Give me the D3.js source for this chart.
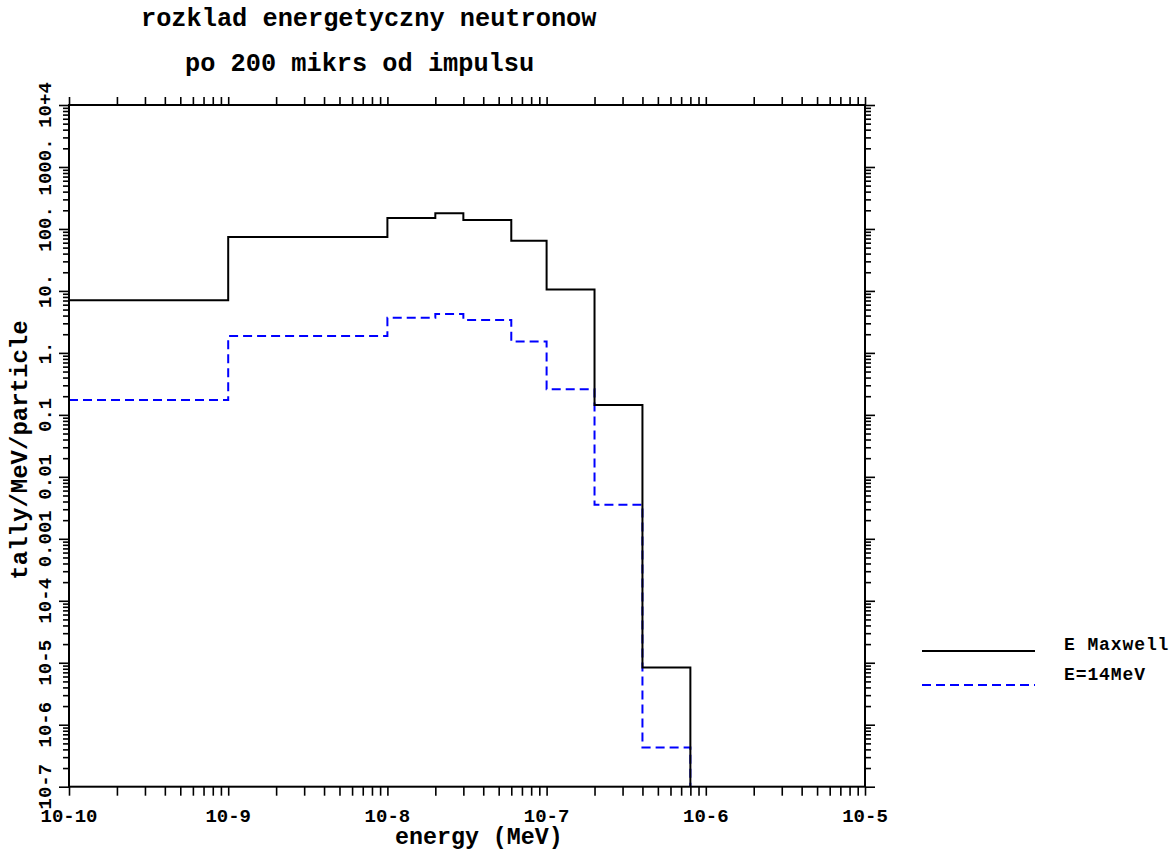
<!DOCTYPE html>
<html>
<head>
<meta charset="utf-8">
<script src="https://cdn.jsdelivr.net/npm/d3@7/dist/d3.min.js"></script>
<style>
  html, body { margin: 0; padding: 0; background: #fff; }
  svg { display: block; }
  text { font-family: "Liberation Mono", "DejaVu Sans Mono", monospace; font-weight: bold; fill: #000; }
</style>
</head>
<body>
<svg id="chart" width="1176" height="850"></svg>
<script>
// Energy bin edges (MeV): each series value applies from edge i to edge i+1
const binEdges = [1e-10, 1e-9, 1e-8, 2e-8, 3e-8, 6e-8, 1e-7, 2e-7, 4e-7, 8e-7];
// tally/MeV/particle per bin; after the last bin the line drops to the axis
const maxwellValues = [7.1, 74, 150, 180, 139, 64.5, 10.5, 0.144, 8.4e-6];
const mev14Values   = [0.174, 1.87, 3.70, 4.24, 3.40, 1.53, 0.258, 0.00356, 4.3e-7];

const xDecades = [1e-10, 1e-9, 1e-8, 1e-7, 1e-6, 1e-5];
const xTickLabels = ["10-10", "10-9", "10-8", "10-7", "10-6", "10-5"];
const yDecades = [1e-7, 1e-6, 1e-5, 1e-4, 1e-3, 1e-2, 1e-1, 1, 10, 100, 1000, 1e4];
const yTickLabels = ["10-7", "10-6", "10-5", "10-4", "0.001", "0.01", "0.1", "1.", "10.", "100.", "1000.", "10+4"];

const titleLines = ["rozklad energetyczny neutronow", "po 200 mikrs od impulsu"];
const xLabel = "energy (MeV)";
const yLabel = "tally/MeV/particle";
const seriesNames = ["E Maxwell", "E=14MeV"];

const svg = d3.select("#chart");
const plotL = 69, plotR = 865, plotT = 105, plotB = 786.7;

const x = d3.scaleLog().domain([1e-10, 1e-5]).range([plotL, plotR]);
const y = d3.scaleLog().domain([1e-7, 1e4]).range([plotB, plotT]);

// minor ticks: 2..9 times each decade
function minorTicks(decades) {
  const out = [];
  for (let i = 0; i < decades.length - 1; i++) {
    for (let k = 2; k <= 9; k++) out.push(decades[i] * k);
  }
  return out;
}
const xMinor = minorTicks(xDecades);
const yMinor = minorTicks(yDecades);

function styleAxis(g) {
  g.select(".domain").remove();
  g.selectAll(".tick line").attr("stroke", "#000").attr("stroke-width", 1.6);
  g.selectAll(".tick text").remove();
}

// bottom & top axes (all ticks same length, outward)
svg.append("g").attr("transform", `translate(0,${plotB})`)
  .call(d3.axisBottom(x).tickValues(xDecades.concat(xMinor)).tickSize(9)).call(styleAxis);
svg.append("g").attr("transform", `translate(0,${plotT})`)
  .call(d3.axisTop(x).tickValues(xDecades.concat(xMinor)).tickSize(8)).call(styleAxis);

// left & right axes: longer decade ticks
svg.append("g").attr("transform", `translate(${plotL},0)`)
  .call(d3.axisLeft(y).tickValues(yDecades).tickSize(10)).call(styleAxis);
svg.append("g").attr("transform", `translate(${plotL},0)`)
  .call(d3.axisLeft(y).tickValues(yMinor).tickSize(6)).call(styleAxis);
svg.append("g").attr("transform", `translate(${plotR},0)`)
  .call(d3.axisRight(y).tickValues(yDecades).tickSize(10)).call(styleAxis);
svg.append("g").attr("transform", `translate(${plotR},0)`)
  .call(d3.axisRight(y).tickValues(yMinor).tickSize(6)).call(styleAxis);

// clip for the histogram lines
svg.append("defs").append("clipPath").attr("id", "plotClip")
  .append("rect").attr("x", plotL).attr("y", plotT).attr("width", plotR - plotL).attr("height", plotB - plotT);

// step histogram path: horizontal across each bin, vertical at each edge, final drop to the axis
function stepPath(values) {
  let d = `M${x(binEdges[0])},${y(values[0])}`;
  for (let i = 0; i < values.length; i++) {
    d += `H${x(binEdges[i + 1])}`;
    const next = i + 1 < values.length ? y(values[i + 1]) : plotB;
    d += `V${next}`;
  }
  return d;
}

const plot = svg.append("g").attr("clip-path", "url(#plotClip)");
plot.append("path").attr("d", stepPath(mev14Values))
  .attr("fill", "none").attr("stroke", "#0000ff").attr("stroke-width", 2)
  .attr("stroke-dasharray", "9,5");
plot.append("path").attr("d", stepPath(maxwellValues))
  .attr("fill", "none").attr("stroke", "#000").attr("stroke-width", 2);

// frame
svg.append("rect").attr("x", plotL).attr("y", plotT).attr("width", plotR - plotL).attr("height", plotB - plotT)
  .attr("fill", "none").attr("stroke", "#000").attr("stroke-width", 2);

// x tick labels
svg.append("g").selectAll("text").data(xDecades).join("text")
  .attr("x", d => x(d)).attr("y", 821.5)
  .attr("text-anchor", "middle").style("font-size", "19px")
  .text((d, i) => xTickLabels[i]);

// y tick labels (rotated)
svg.append("g").selectAll("text").data(yDecades).join("text")
  .attr("transform", d => `translate(51,${y(d)}) rotate(-90)`)
  .attr("text-anchor", "middle").style("font-size", "19px")
  .text((d, i) => yTickLabels[i]);

// titles
svg.append("text").attr("x", 141).attr("y", 26).style("font-size", "25.3px").text(titleLines[0]);
svg.append("text").attr("x", 185).attr("y", 71).style("font-size", "25.3px").text(titleLines[1]);

// axis titles
svg.append("text").attr("x", 395).attr("y", 844).style("font-size", "23.3px").text(xLabel);
svg.append("text").attr("transform", "translate(27,450) rotate(-90)")
  .attr("text-anchor", "middle").style("font-size", "24px").text(yLabel);

// legend
const legend = svg.append("g");
const legendRows = [
  { name: seriesNames[0], color: "#000", dash: null, ly: 651, ty: 650 },
  { name: seriesNames[1], color: "#0000ff", dash: "9,5", ly: 685, ty: 680 }
];
legendRows.forEach(r => {
  legend.append("line").attr("x1", 922).attr("x2", 1035).attr("y1", r.ly).attr("y2", r.ly)
    .attr("stroke", r.color).attr("stroke-width", 2)
    .attr("stroke-dasharray", r.dash);
  legend.append("text").attr("x", 1064).attr("y", r.ty)
    .style("font-size", "18px").style("letter-spacing", "0.9px").text(r.name);
});
</script>
</body>
</html>
